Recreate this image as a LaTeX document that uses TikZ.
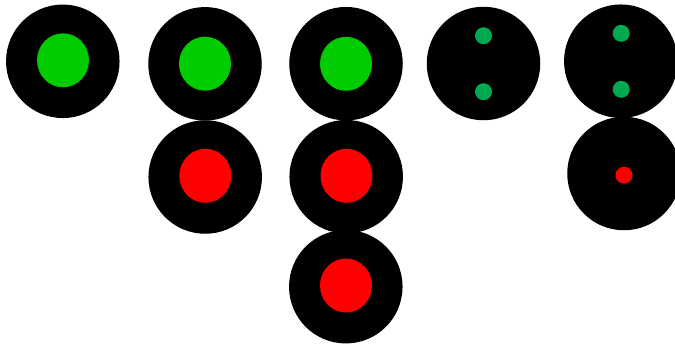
\documentclass[tikz,border=0pt]{standalone}
\usetikzlibrary{shapes.geometric}
\definecolor{lampgreen}{RGB}{0,204,0}
\definecolor{dotgreen}{RGB}{0,170,80}
\definecolor{lampred}{RGB}{255,0,0}
\tikzset{
  housing/.style={circle, fill=black, inner sep=0pt, minimum size=113.5pt},
  biglamp/.style={ellipse, inner sep=0pt, minimum width=52pt, minimum height=54pt},
  smalllamp/.style={circle, inner sep=0pt, minimum size=17pt}
}
\begin{document}
\begin{tikzpicture}[x=1pt,y=-1pt]
\useasboundingbox (0,0) rectangle (675,343);
% housings
\node[housing] (h1) at (62.8,61.3) {};
\node[housing] (h2a) at (205,63.8) {};
\node[housing] (h2b) at (205.2,177) {};
\node[housing] (h3a) at (346,63.7) {};
\node[housing] (h3b) at (346.2,176.7) {};
\node[housing] (h3c) at (345.8,286.7) {};
\node[housing] (h4) at (483.5,63.5) {};
\node[housing] (h5a) at (620.8,61.2) {};
\node[housing] (h5b) at (624,173.5) {};
% lamps
\node[biglamp, fill=lampgreen] (l1) at (63,60.3) {};
\node[biglamp, fill=lampgreen] (l2a) at (205,63.7) {};
\node[biglamp, fill=lampred] (l2b) at (205.3,175.8) {};
\node[biglamp, fill=lampgreen] (l3a) at (346,63.8) {};
\node[biglamp, fill=lampred] (l3b) at (346.5,175.8) {};
\node[biglamp, fill=lampred] (l3c) at (346,285.5) {};
\node[smalllamp, fill=dotgreen] (d4a) at (483.5,35.7) {};
\node[smalllamp, fill=dotgreen] (d4b) at (483.5,91.7) {};
\node[smalllamp, fill=dotgreen] (d5a) at (621.2,33.3) {};
\node[smalllamp, fill=dotgreen] (d5b) at (621.2,89.3) {};
\node[smalllamp, fill=lampred] (d5c) at (624,175.2) {};
\end{tikzpicture}
\end{document}
